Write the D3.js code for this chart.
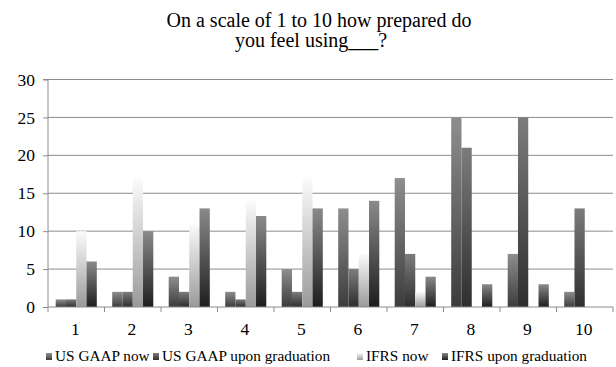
<!DOCTYPE html>
<html>
<head>
<meta charset="utf-8">
<script src="https://cdn.jsdelivr.net/npm/d3@7"></script>
<style>
  body { margin: 0; background: #fff; }
</style>
</head>
<body>
<svg width="616" height="367"></svg>
<script>
const categories = ['1', '2', '3', '4', '5', '6', '7', '8', '9', '10'];
const seriesNames = ['US GAAP now', 'US GAAP upon graduation', 'IFRS now', 'IFRS upon graduation'];
const usGaapNow = [1, 2, 4, 2, 5, 13, 17, 25, 7, 2];
const usGaapGrad = [1, 2, 2, 1, 2, 5, 7, 21, 25, 13];
const ifrsNow = [10, 17, 11, 14, 17, 7, 2, 0, 0, 0];
const ifrsGrad = [6, 10, 13, 12, 13, 14, 4, 3, 3, 0];
const yTicks = [0, 5, 10, 15, 20, 25, 30];
const titleLines = ['On a scale of 1 to 10 how prepared do', 'you feel using___?'];

(function (d3) {
    'use strict';
    const svg = d3.select('svg');
    const serif = "'Liberation Serif', 'Times New Roman', 'DejaVu Serif', serif";
    const margin = { top: 79.5, left: 48, right: 3, bottom: 60 };
    const width = +svg.attr('width');
    const height = +svg.attr('height');

    const seriesValues = [usGaapNow, usGaapGrad, ifrsNow, ifrsGrad];
    // gradient stops per series (top, bottom)
    const shades = [['#8e8e8e', '#3c3c3c'], ['#7c7c7c', '#2e2e2e'], ['#fbfbfb', '#9a9a9a'], ['#8a8a8a', '#1e1e1e']];

    const defs = svg.append('defs');
    shades.forEach((s, i) => {
        const lg = defs.append('linearGradient')
            .attr('id', 'grad' + i)
            .attr('x1', 0).attr('y1', 0).attr('x2', 0).attr('y2', 1);
        lg.append('stop').attr('offset', '0%').attr('stop-color', s[0]);
        lg.append('stop').attr('offset', '100%').attr('stop-color', s[1]);
    });

    const x0 = d3.scaleBand()
        .domain(categories)
        .range([margin.left, width - margin.right])
        .padding(0);
    const x1 = d3.scaleBand()
        .domain(d3.range(seriesNames.length))
        .range([0, x0.bandwidth()])
        .paddingInner(0)
        .paddingOuter(0.75);
    const yScale = d3.scaleLinear()
        .domain([0, 30])
        .range([height - 60, margin.top]);

    // title
    svg.append('g').selectAll('text').data(titleLines)
      .enter().append('text')
        .attr('x', (d, i) => i === 0 ? 319 : 311)
        .attr('y', (d, i) => 27 + i * 20)
        .attr('text-anchor', 'middle')
        .style('font-family', serif)
        .style('font-size', '20px')
        .text(d => d);

    // gridlines
    svg.append('g').selectAll('line').data(yTicks.filter(t => t > 0))
      .enter().append('line')
        .attr('x1', margin.left).attr('x2', width - margin.right)
        .attr('y1', d => yScale(d)).attr('y2', d => yScale(d))
        .attr('stroke', '#8c8c8c').attr('stroke-width', 1);

    // bars
    const groups = svg.append('g').selectAll('g').data(categories)
      .enter().append('g')
        .attr('transform', d => `translate(${x0(d)},0)`);
    groups.selectAll('rect')
        .data((c, ci) => seriesValues.map((vals, si) => ({ si, v: vals[ci] })))
      .enter().append('rect')
        .filter(d => d.v > 0)
        .attr('x', d => x1(d.si))
        .attr('width', x1.bandwidth())
        .attr('y', d => yScale(d.v))
        .attr('height', d => yScale(0) - yScale(d.v))
        .attr('fill', d => `url(#grad${d.si})`);

    // y axis
    const yAxis = d3.axisLeft(yScale)
        .tickValues(yTicks)
        .tickSize(5)
        .tickPadding(8);
    const yAxisG = svg.append('g')
        .attr('transform', `translate(${margin.left},0)`)
        .call(yAxis);
    yAxisG.select('.domain').attr('stroke', '#8c8c8c').attr('d', `M-5,${yScale(30)}H0V${yScale(0)}`);
    yAxisG.selectAll('.tick line').attr('stroke', '#8c8c8c');
    yAxisG.selectAll('.tick text')
        .style('font-family', serif)
        .style('font-size', '17.5px')
        .attr('fill', '#000');

    // x axis
    const xAxisG = svg.append('g');
    xAxisG.append('line')
        .attr('x1', margin.left).attr('x2', width - margin.right)
        .attr('y1', yScale(0)).attr('y2', yScale(0))
        .attr('stroke', '#8c8c8c');
    const boundaries = categories.map(c => x0(c)).concat([x0(categories[categories.length - 1]) + x0.bandwidth()]);
    xAxisG.selectAll('.xtick').data(boundaries)
      .enter().append('line')
        .attr('class', 'xtick')
        .attr('x1', d => d).attr('x2', d => d)
        .attr('y1', yScale(0)).attr('y2', yScale(0) + 5)
        .attr('stroke', '#8c8c8c');
    xAxisG.selectAll('text').data(categories)
      .enter().append('text')
        .attr('x', d => x0(d) + x0.bandwidth() / 2 - 1)
        .attr('y', 335)
        .attr('text-anchor', 'middle')
        .style('font-family', serif)
        .style('font-size', '17.5px')
        .text(d => d);

    // legend
    const legendX = [46, 153, 357, 442];
    const legend = svg.append('g').selectAll('g').data(seriesNames)
      .enter().append('g')
        .attr('transform', (d, i) => `translate(${legendX[i]},0)`);
    legend.append('rect')
        .attr('x', 0).attr('y', 353)
        .attr('width', 6).attr('height', 7)
        .attr('fill', (d, i) => `url(#grad${i})`);
    legend.append('text')
        .attr('x', 9).attr('y', 361)
        .style('font-family', serif)
        .style('font-size', '15.3px')
        .text(d => d);
}(d3));
</script>
</body>
</html>
